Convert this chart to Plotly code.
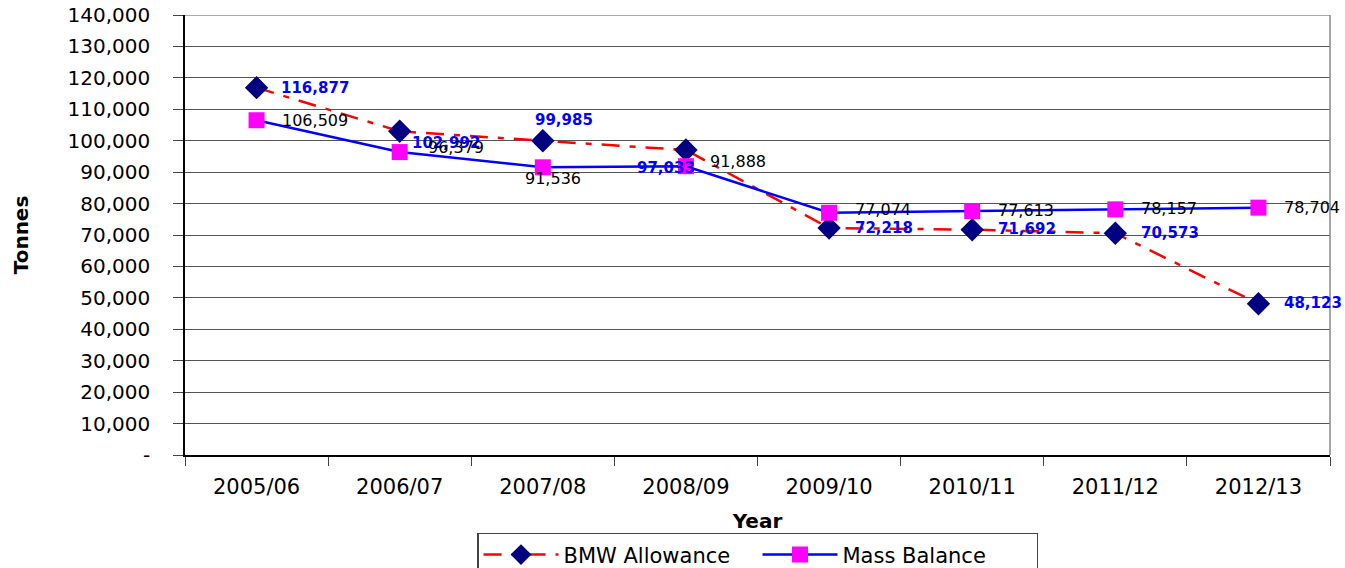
import plotly.graph_objects as go

years = ["2005/06", "2006/07", "2007/08", "2008/09", "2009/10", "2010/11", "2011/12", "2012/13"]
bmw_allowance = [116877, 102992, 99985, 97033, 72218, 71692, 70573, 48123]
mass_balance = [106509, 96379, 91536, 91888, 77074, 77613, 78157, 78704]
y_tickvals = list(range(0, 140001, 10000))
y_ticktext = ["-"] + [f"{v:,}" for v in y_tickvals[1:]]

# label placement (anchor, xshift, yshift) per point
bmw_lab = [("left", 22, 0), ("left", 10, -12), ("center", 21, 21), ("center", -20, -18),
           ("left", 24, 0), ("left", 24, 1), ("left", 24, 0), ("left", 24, 1)]
mass_lab = [("left", 23, 0), ("left", 26, 5), ("center", 10, -11), ("left", 22, 5),
            ("left", 24, 3), ("left", 24, 1), ("left", 24, 1), ("left", 24, 0)]

FONT = "DejaVu Sans, Verdana, sans-serif"
PAD = "\u00a0\u00a0\u00a0"

fig = go.Figure()
fig.add_trace(go.Scatter(
    x=years, y=bmw_allowance, name="BMW Allowance",
    mode="lines+markers",
    line=dict(color="#FF0000", width=2.5, dash="18px,10px,6px,10px"),
    marker=dict(symbol="diamond", size=18, color="#000080"),
    cliponaxis=False,
))
fig.add_trace(go.Scatter(
    x=years, y=mass_balance, name="Mass Balance",
    mode="lines+markers",
    line=dict(color="#0000FF", width=2.5),
    marker=dict(symbol="square", size=16, color="#FF00FF"),
    cliponaxis=False,
))

for x, v, (anc, xs, ys) in zip(years, bmw_allowance, bmw_lab):
    fig.add_annotation(x=x, y=v, text=f"<b>{v:,}</b>", showarrow=False,
                       xanchor=anc, yanchor="middle", xshift=xs, yshift=ys,
                       font=dict(family=FONT, size=15, color="#0000FF"))
for x, v, (anc, xs, ys) in zip(years, mass_balance, mass_lab):
    fig.add_annotation(x=x, y=v, text=f"{v:,}", showarrow=False,
                       xanchor=anc, yanchor="middle", xshift=xs, yshift=ys,
                       font=dict(family=FONT, size=16, color="#000000"))

fig.update_layout(
    width=1345, height=568,
    margin=dict(l=185, r=15, t=15, b=113, autoexpand=False),
    paper_bgcolor="white", plot_bgcolor="white",
    font=dict(family=FONT, color="#000000"),
    showlegend=True,
    legend=dict(orientation="h", x=0.5, xanchor="center", y=-0.177, yanchor="top",
                bordercolor="#444444", borderwidth=1.5,
                font=dict(family=FONT, size=21, color="#000000"),
                itemwidth=75, entrywidth=189, traceorder="normal"),
)
fig.update_xaxes(
    type="category", range=[-0.5, 7.5],
    showgrid=False, showline=True, linecolor="#000000", linewidth=1.5,
    ticks="outside", tickson="boundaries", ticklen=9, tickcolor="#444444",
    ticklabelstandoff=12,
    tickfont=dict(family=FONT, size=21, color="#000000"),
    title=dict(text="<b>Year</b>", font=dict(family=FONT, size=20, color="#000000"), standoff=16),
)
fig.update_yaxes(
    range=[0, 140000], tickvals=y_tickvals, ticktext=[t + PAD for t in y_ticktext],
    ticklabeloverflow="allow",
    showgrid=True, gridcolor="#555555", gridwidth=1,
    showline=True, linecolor="#000000", linewidth=1.5, mirror=False,
    ticks="outside", ticklen=10, tickcolor="#444444",
    tickfont=dict(family=FONT, size=20, color="#000000"),
    title=dict(text="<b>Tonnes</b>", font=dict(family=FONT, size=20, color="#000000"), standoff=33),
    zeroline=False,
)
# top gridline (at the top of the range) and right border line of plot area
fig.add_shape(type="line", xref="paper", yref="y", x0=0, x1=1,
              y0=y_tickvals[-1], y1=y_tickvals[-1], line=dict(color="#555555", width=1))
fig.add_shape(type="line", xref="paper", yref="paper", x0=1, x1=1, y0=0, y1=1,
              line=dict(color="#888888", width=1.5))

fig.write_html("out.html", config={"displayModeBar": False},
               post_script="document.body.style.margin='0';document.body.style.overflow='hidden';")
